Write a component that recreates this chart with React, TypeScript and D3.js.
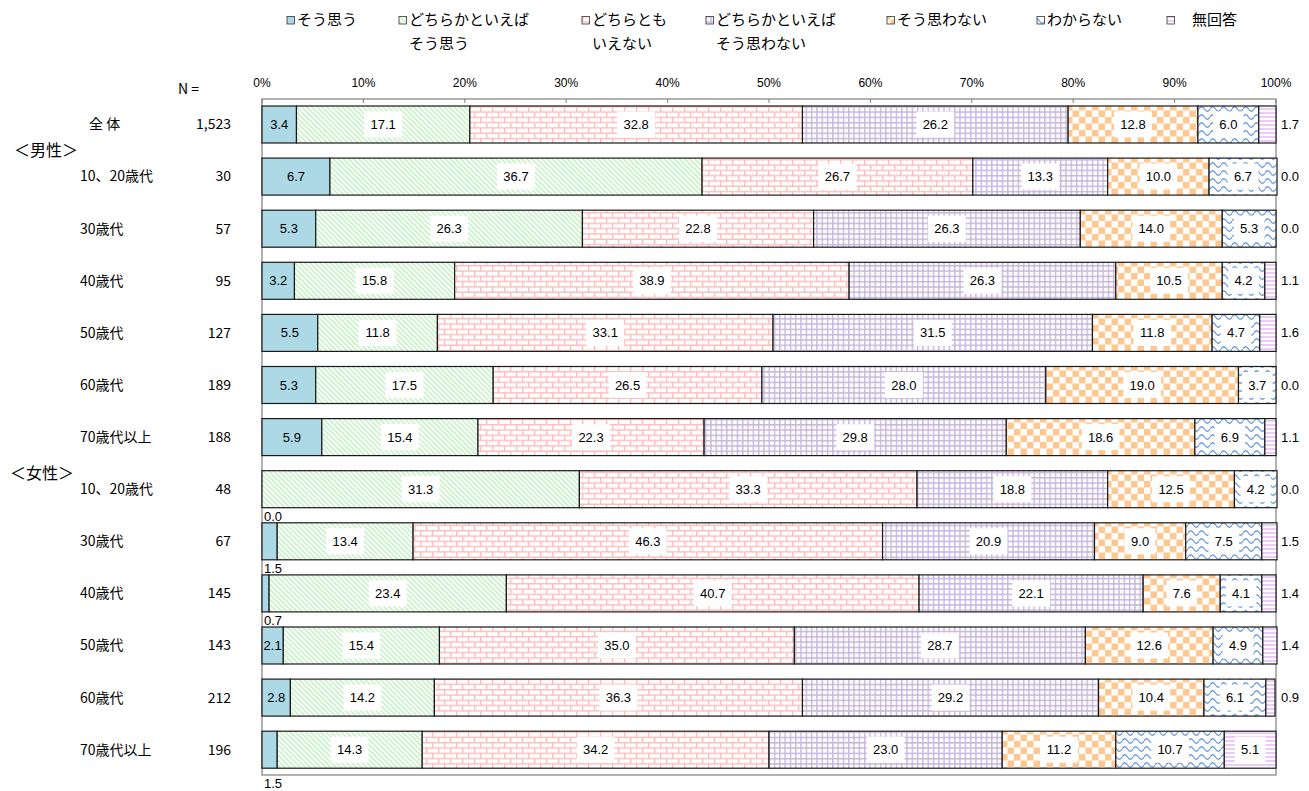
import React from 'react';
import * as d3 from 'd3';

// series (legend order)
const seriesNames = [
  ['そう思う'],
  ['どちらかといえば', 'そう思う'],
  ['どちらとも', 'いえない'],
  ['どちらかといえば', 'そう思わない'],
  ['そう思わない'],
  ['わからない'],
  ['\u3000無回答'],
];
const legendX = [287, 399, 582, 706, 887, 1037, 1167];

const rowLabels = [
  '全 体', '10、20歳代', '30歳代', '40歳代', '50歳代', '60歳代', '70歳代以上',
  '10、20歳代', '30歳代', '40歳代', '50歳代', '60歳代', '70歳代以上',
];
const rowN = ['1,523', '30', '57', '95', '127', '189', '188', '48', '67', '145', '143', '212', '196'];

const values: number[][] = [
  [3.4, 17.1, 32.8, 26.2, 12.8, 6.0, 1.7],
  [6.7, 36.7, 26.7, 13.3, 10.0, 6.7, 0.0],
  [5.3, 26.3, 22.8, 26.3, 14.0, 5.3, 0.0],
  [3.2, 15.8, 38.9, 26.3, 10.5, 4.2, 1.1],
  [5.5, 11.8, 33.1, 31.5, 11.8, 4.7, 1.6],
  [5.3, 17.5, 26.5, 28.0, 19.0, 3.7, 0.0],
  [5.9, 15.4, 22.3, 29.8, 18.6, 6.9, 1.1],
  [0.0, 31.3, 33.3, 18.8, 12.5, 4.2, 0.0],
  [1.5, 13.4, 46.3, 20.9, 9.0, 7.5, 1.5],
  [0.7, 23.4, 40.7, 22.1, 7.6, 4.1, 1.4],
  [2.1, 15.4, 35.0, 28.7, 12.6, 4.9, 1.4],
  [2.8, 14.2, 36.3, 29.2, 10.4, 6.1, 0.9],
  [1.5, 14.3, 34.2, 23.0, 11.2, 10.7, 5.1],
];

const groups = [
  { label: '＜男性＞', x: 14, y: 150 },
  { label: '＜女性＞', x: 10, y: 473 },
];

const ticks = d3.range(0, 101, 10);
const fills = ['#add8e6', 'url(#p1)', 'url(#p2)', 'url(#p3)', 'url(#p4)', 'url(#p5)', 'url(#p6)'];

const JP = '"Noto Sans CJK JP", "Noto Sans", sans-serif';
const NUM = '"Liberation Sans", Arial, sans-serif';

const App = () => {
  const width = 1309;
  const height = 791;
  const frameTop = 99;
  const frameBottom = 775;
  const x = d3.scaleLinear().domain([0, 100]).range([262, 1276]);
  const y = d3.scaleBand<number>()
    .domain(d3.range(values.length))
    .range([106, 106 + 12 * 52.1 + 37])
    .paddingInner(0.29)
    .paddingOuter(0);
  const bw = y.bandwidth();

  const stacked = values.map((row) => {
    const cum = d3.cumsum(row);
    return row.map((v, i) => ({ v, i, x0: cum[i] - v, x1: cum[i] }));
  });

  return (
    <svg width={width} height={height} style={{ position: 'absolute', left: 0, top: 0, background: '#fff' }}>
      <defs>
        <pattern id="p1" patternUnits="userSpaceOnUse" width="3.6" height="3.6" patternTransform="rotate(-45)">
          <rect width="3.6" height="3.6" fill="#fff" />
          <rect width="1.7" height="3.6" fill="#c9f2c9" />
        </pattern>
        <pattern id="p2" patternUnits="userSpaceOnUse" width="12" height="10.6">
          <rect width="12" height="10.6" fill="#fff" />
          <path d="M0,0.7H12M0,6H12M0.7,0V5.3M6.7,5.3V10.6" stroke="#ffbdbd" strokeWidth="1.4" fill="none" />
        </pattern>
        <pattern id="p3" patternUnits="userSpaceOnUse" width="5.3" height="5.3">
          <rect width="5.3" height="5.3" fill="#fff" />
          <path d="M0,0.7H5.3M0.7,0V5.3" stroke="#c7b9de" strokeWidth="1.5" fill="none" />
        </pattern>
        <pattern id="p4" patternUnits="userSpaceOnUse" width="13" height="13">
          <rect width="13" height="13" fill="#fff" />
          <rect width="6.5" height="6.5" fill="#ffc890" />
          <rect x="6.5" y="6.5" width="6.5" height="6.5" fill="#ffc890" />
        </pattern>
        <pattern id="p5" patternUnits="userSpaceOnUse" width="11" height="8">
          <rect width="11" height="8" fill="#fff" />
          <path d="M0,5 Q2.75,0.5 5.5,5 T11,5" stroke="#6a9ddf" strokeWidth="1.3" fill="none" />
        </pattern>
        <pattern id="p6" patternUnits="userSpaceOnUse" width="4" height="4">
          <rect width="4" height="4" fill="#fff" />
          <rect width="4" height="2" fill="#ecccf4" />
        </pattern>
      </defs>

      {/* legend */}
      {seriesNames.map((lines, i) => (
        <g key={i}>
          <rect x={legendX[i]} y={16.5} width={7.5} height={7.5} fill={fills[i]} stroke="#333" strokeWidth={0.8} />
          {lines.map((t, j) => (
            <text key={j} x={legendX[i] + 10} y={20 + j * 23.5} dy="0.35em" fontFamily={JP} fontSize={15} fill="#000">
              {t}
            </text>
          ))}
        </g>
      ))}

      {/* axis labels */}
      <text x={178} y={89} dy="0.35em" fontFamily={JP} fontSize={14}>N =</text>
      {ticks.map((t) => (
        <text key={t} x={x(t)} y={83} dy="0.35em" textAnchor="middle" fontFamily={NUM} fontSize={12}>
          {t}%
        </text>
      ))}

      {/* frame */}
      <rect x={x(0)} y={frameTop} width={x(100) - x(0)} height={frameBottom - frameTop} fill="#fff" stroke="#7f7f7f" strokeWidth={1.2} />
      {ticks.map((t) => (
        <line key={t} x1={x(t)} x2={x(t)} y1={frameTop} y2={frameTop + 4} stroke="#7f7f7f" />
      ))}

      {/* group labels */}
      {groups.map((g) => (
        <text key={g.label} x={g.x} y={g.y} dy="0.35em" fontFamily={JP} fontSize={16}>{g.label}</text>
      ))}

      {/* rows */}
      {stacked.map((segs, r) => {
        const y0 = y(r) as number;
        const cy = y0 + bw / 2;
        return (
          <g key={r}>
            <text x={r === 0 ? 89 : 80} y={cy} dy="0.35em" fontFamily={JP} fontSize={14}>{rowLabels[r]}</text>
            <text x={231} y={cy} dy="0.35em" textAnchor="end" fontFamily={JP} fontSize={14}>{rowN[r]}</text>
            {segs.map((s) => (
              <rect key={s.i} x={x(s.x0)} y={y0} width={Math.max(0, x(s.x1) - x(s.x0))} height={bw}
                fill={fills[s.i]} stroke="#1a1a1a" strokeWidth={1.2} />
            ))}
            {segs.map((s) => {
              const label = s.v.toFixed(1);
              if (s.i === 0 && s.v < 2) {
                // below the bar; pushed under the frame for the last row
                let ly = y0 + bw + 9;
                if (ly > frameBottom - 6) ly = frameBottom + 8;
                return (
                  <text key={s.i} x={x(0) + 2} y={ly} dy="0.35em" fontFamily={NUM} fontSize={13}>{label}</text>
                );
              }
              if (s.i === 6 && s.v < 3) {
                return (
                  <text key={s.i} x={1281} y={cy} dy="0.35em" fontFamily={NUM} fontSize={13}>{label}</text>
                );
              }
              const cx = (x(s.x0) + x(s.x1)) / 2;
              const tw = label.length * 7.2 - 1;
              return (
                <g key={s.i}>
                  {s.i > 0 && (
                    <rect x={cx - tw / 2 - 5} y={cy - 13} width={tw + 10} height={26} fill="#fff" />
                  )}
                  <text x={cx} y={cy} dy="0.35em" textAnchor="middle" fontFamily={NUM} fontSize={13}>{label}</text>
                </g>
              );
            })}
          </g>
        );
      })}
    </svg>
  );
};

export default App;
